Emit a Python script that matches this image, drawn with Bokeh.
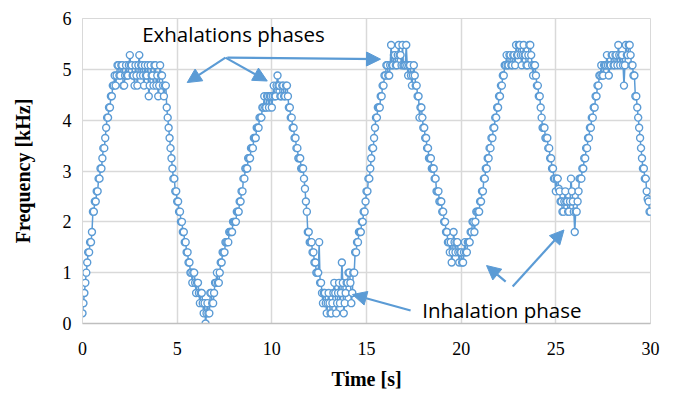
from bokeh.plotting import figure
from bokeh.models import Range1d, Arrow, NormalHead, Label, FixedTicker, ColumnDataSource
from bokeh.embed import file_html
from bokeh.resources import INLINE

dt = 0.05
freq_khz = [
    # 0-1 s
    0.2, 0.4, 0.6, 0.8, 1.0, 1.2, 1.4, 1.4, 1.6, 1.6, 1.8, 2.2, 2.2, 2.4, 2.4, 2.6, 2.6, 2.85, 2.85, 3.05,
    # 1-2 s
    3.05, 3.25, 3.45, 3.45, 3.65, 3.85, 4.05, 4.05, 4.25, 4.25, 4.47, 4.47, 4.68, 4.68, 4.88, 4.68, 4.88, 5.08, 5.08, 4.88,
    # 2-3 s
    4.88, 5.08, 5.08, 4.68, 4.68, 4.88, 5.08, 4.88, 4.88, 5.08, 5.28, 5.08, 5.08, 4.88, 4.88, 4.68, 5.08, 4.88, 4.68, 5.08,
    # 3-4 s
    5.28, 4.88, 5.08, 5.08, 4.88, 4.68, 5.08, 4.88, 4.88, 5.08, 4.47, 4.68, 5.08, 4.88, 4.88, 4.68, 5.08, 5.08, 4.68, 4.88,
    # 4-5 s
    4.47, 4.68, 5.08, 4.88, 4.88, 4.68, 4.47, 4.68, 4.68, 4.25, 4.05, 3.85, 3.65, 3.45, 3.25, 3.05, 2.85, 2.85, 2.6, 2.6,
    # 5-6 s
    2.4, 2.4, 2.2, 2.2, 2.0, 2.0, 1.8, 1.8, 1.6, 1.6, 1.4, 1.4, 1.2, 1.2, 1.0, 1.0, 0.8, 1.0, 1.0, 0.8,
    # 6-7 s
    0.6, 0.8, 0.8, 0.6, 0.4, 0.6, 0.6, 0.4, 0.2, 0.4, 0.0, 0.2, 0.4, 0.2, 0.2, 0.6, 0.6, 0.4, 0.4, 0.6,
    # 7-8 s
    0.8, 0.8, 1.0, 0.8, 0.8, 1.0, 1.2, 1.2, 1.4, 1.4, 1.4, 1.6, 1.6, 1.6, 1.6, 1.8, 1.8, 1.8, 1.8, 2.0,
    # 8-9 s
    2.0, 2.0, 2.0, 2.2, 2.2, 2.2, 2.4, 2.4, 2.6, 2.6, 2.85, 2.85, 3.05, 3.05, 3.05, 3.25, 3.25, 3.25, 3.45, 3.45,
    # 9-10 s
    3.45, 3.65, 3.65, 3.65, 3.85, 3.85, 3.85, 4.05, 4.05, 4.05, 4.25, 4.25, 4.47, 4.25, 4.25, 4.47, 4.47, 4.25, 4.47, 4.47,
    # 10-11 s
    4.25, 4.47, 4.68, 4.47, 4.47, 4.68, 4.88, 4.68, 4.68, 4.47, 4.47, 4.68, 4.68, 4.47, 4.47, 4.68, 4.68, 4.47, 4.25, 4.25,
    # 11-12 s
    4.05, 4.05, 3.85, 3.85, 3.65, 3.65, 3.45, 3.45, 3.25, 3.25, 3.25, 3.05, 3.05, 3.05, 2.85, 2.65, 2.4, 2.2, 1.8, 1.8,
    # 12-13 s
    1.6, 1.6, 1.6, 1.4, 1.4, 1.2, 1.2, 1.0, 1.0, 1.0, 1.6, 0.8, 0.8, 0.6, 0.4, 0.6, 0.6, 0.4, 0.2, 0.4,
    # 13-14 s
    0.6, 0.4, 0.2, 0.2, 0.4, 0.6, 0.8, 0.6, 0.2, 0.4, 0.6, 0.8, 0.4, 0.6, 1.2, 0.8, 0.2, 0.4, 0.6, 0.8,
    # 14-15 s
    0.8, 1.0, 1.0, 0.8, 0.4, 0.6, 1.0, 1.0, 1.4, 1.4, 1.6, 1.6, 1.8, 1.8, 1.8, 2.0, 2.0, 2.2, 2.2, 2.4,
    # 15-16 s
    2.6, 2.6, 2.85, 2.85, 3.05, 3.25, 3.45, 3.45, 3.65, 3.85, 4.05, 4.05, 4.25, 4.25, 4.25, 4.47, 4.47, 4.68, 4.68, 4.88,
    # 16-17 s
    4.88, 5.08, 5.08, 4.88, 4.88, 5.08, 5.48, 5.08, 5.08, 5.28, 5.28, 5.08, 5.08, 5.28, 5.48, 5.28, 5.28, 5.08, 5.48, 5.08,
    # 17-18 s
    5.08, 5.08, 5.48, 5.08, 4.88, 5.08, 5.08, 4.88, 4.68, 4.88, 5.08, 4.88, 4.68, 4.68, 4.47, 4.47, 4.05, 4.25, 4.25, 4.05,
    # 18-19 s
    3.85, 3.85, 3.65, 3.65, 3.45, 3.45, 3.25, 3.25, 3.25, 3.05, 3.05, 3.05, 2.85, 2.85, 2.6, 2.6, 2.6, 2.4, 2.4, 2.4,
    # 19-20 s
    2.2, 2.2, 2.0, 2.0, 1.8, 1.8, 1.6, 1.6, 1.4, 1.6, 1.2, 1.4, 1.8, 1.6, 1.4, 1.6, 1.6, 1.4, 1.2, 1.4,
    # 20-21 s
    1.4, 1.2, 1.2, 1.4, 1.6, 1.4, 1.4, 1.6, 1.6, 1.6, 1.8, 1.8, 2.0, 2.0, 1.8, 2.0, 2.2, 2.2, 2.2, 2.2,
    # 21-22 s
    2.4, 2.4, 2.6, 2.6, 2.85, 2.85, 3.05, 3.05, 3.25, 3.25, 3.45, 3.45, 3.65, 3.65, 3.85, 3.85, 4.05, 4.05, 4.25, 4.25,
    # 22-23 s
    4.47, 4.47, 4.68, 4.68, 4.88, 4.88, 5.08, 5.08, 5.28, 5.08, 5.08, 5.28, 5.28, 5.08, 5.08, 5.28, 5.28, 5.08, 5.48, 5.28,
    # 23-24 s
    5.28, 5.48, 5.48, 5.28, 5.08, 5.28, 5.48, 5.28, 5.28, 5.08, 5.08, 5.28, 5.48, 5.48, 5.28, 5.08, 4.88, 5.08, 5.08, 4.88,
    # 24-25 s
    4.68, 4.68, 4.47, 4.47, 4.25, 4.05, 3.85, 3.85, 3.85, 3.65, 3.65, 3.65, 3.45, 3.45, 3.25, 3.25, 3.05, 3.05, 2.85, 2.85,
    # 25-26 s
    2.6, 2.85, 2.85, 2.65, 2.6, 2.4, 2.4, 2.2, 2.2, 2.4, 2.6, 2.4, 2.4, 2.2, 2.2, 2.4, 2.85, 2.6, 2.4, 2.2,
    # 26-27 s
    1.8, 2.2, 2.2, 2.4, 2.6, 2.85, 2.85, 2.85, 3.05, 3.05, 3.25, 3.25, 3.45, 3.45, 3.65, 3.65, 3.85, 3.85, 4.05, 4.05,
    # 27-28 s
    4.25, 4.25, 4.47, 4.47, 4.68, 4.68, 4.88, 4.88, 5.08, 4.88, 4.88, 5.08, 5.08, 5.08, 5.28, 5.08, 4.88, 5.08, 5.08, 5.28,
    # 28-29 s
    5.28, 5.08, 5.08, 5.28, 5.28, 5.08, 5.48, 5.28, 5.08, 5.28, 5.28, 5.08, 4.68, 5.08, 5.48, 5.28, 5.28, 5.48, 5.48, 5.28,
    # 29-30 s
    5.08, 5.08, 4.88, 4.88, 4.47, 4.47, 4.25, 4.05, 3.85, 3.65, 3.45, 3.25, 3.05, 3.05, 2.85, 2.85, 2.6, 2.45, 2.4, 2.2,
    # 30 s
    2.2,
]
time_s = [round(i * dt, 3) for i in range(len(freq_khz))]

x_ticks = [0, 5, 10, 15, 20, 25, 30]
y_ticks = [0, 1, 2, 3, 4, 5, 6]

exh_label = "Exhalations phases"
inh_label = "Inhalation phase"
# annotation anchors (data coordinates)
exh_text_xy = (3.15, 5.69)
inh_text_xy = (17.94, 0.27)
exh_arrows = [  # (x_start, y_start, x_end, y_end)
    (7.55, 5.23, 5.53, 4.74),
    (7.55, 5.23, 9.76, 4.77),
    (7.65, 5.23, 15.74, 5.20),
]
inh_arrows = [
    (17.33, 0.255, 14.26, 0.57),
    (22.35, 0.825, 21.34, 1.14),
    (22.72, 0.727, 25.43, 1.84),
]

BLUE = "#5B9BD5"
GRID = "#D9D9D9"

p = figure(width=663, height=394, x_range=Range1d(0, 30), y_range=Range1d(0, 6),
           output_backend="svg", toolbar_location=None,
           min_border_left=82, min_border_right=13, min_border_top=18, min_border_bottom=71)
p.outline_line_color = GRID
p.background_fill_color = "white"
p.border_fill_color = "white"

src = ColumnDataSource(dict(t=time_s, f=freq_khz))
p.line("t", "f", source=src, line_color=BLUE, line_width=1.5)
p.scatter("t", "f", source=src, marker="circle", size=7, line_color=BLUE,
          fill_color="white", line_width=1.4)

for ax in (p.xaxis[0], p.yaxis[0]):
    ax.major_tick_line_color = None
    ax.minor_tick_line_color = None
    ax.major_tick_in = 0
    ax.major_tick_out = 0
    ax.minor_tick_in = 0
    ax.minor_tick_out = 0
    ax.major_label_text_font = "Liberation Serif"
    ax.major_label_text_font_size = "18px"
    ax.major_label_text_color = "black"
    ax.axis_label_text_font = "Liberation Serif"
    ax.axis_label_text_font_size = "20px"
    ax.axis_label_text_font_style = "bold"
    ax.axis_label_text_color = "black"

p.xaxis[0].ticker = FixedTicker(ticks=x_ticks)
p.yaxis[0].ticker = FixedTicker(ticks=y_ticks)
p.xaxis[0].axis_line_color = "#BFBFBF"
p.xaxis[0].axis_line_width = 1.5
p.yaxis[0].axis_line_color = GRID
p.xaxis[0].axis_label = "Time [s]"
p.yaxis[0].axis_label = "Frequency [kHz]"
p.xaxis[0].major_label_standoff = 18
p.yaxis[0].major_label_standoff = 11
p.xaxis[0].axis_label_standoff = 10
p.yaxis[0].axis_label_standoff = 26

p.xgrid[0].grid_line_color = GRID
p.ygrid[0].grid_line_color = GRID
p.xgrid[0].grid_line_width = 1.5
p.ygrid[0].grid_line_width = 1.5

p.add_layout(Label(x=exh_text_xy[0], y=exh_text_xy[1], text=exh_label,
                   text_font="Open Sans", text_font_size="20.5px",
                   text_baseline="alphabetic", text_color="black"))
p.add_layout(Label(x=inh_text_xy[0], y=inh_text_xy[1], text=inh_label,
                   text_font="Open Sans", text_font_size="20.5px",
                   text_baseline="alphabetic", text_color="black"))

for xs, ys, xe, ye in exh_arrows + inh_arrows:
    p.add_layout(Arrow(end=NormalHead(size=14, fill_color=BLUE, line_color=BLUE, line_width=1),
                       x_start=xs, y_start=ys, x_end=xe, y_end=ye,
                       line_color=BLUE, line_width=2.2))

open("out.html", "w").write(file_html(p, INLINE))
